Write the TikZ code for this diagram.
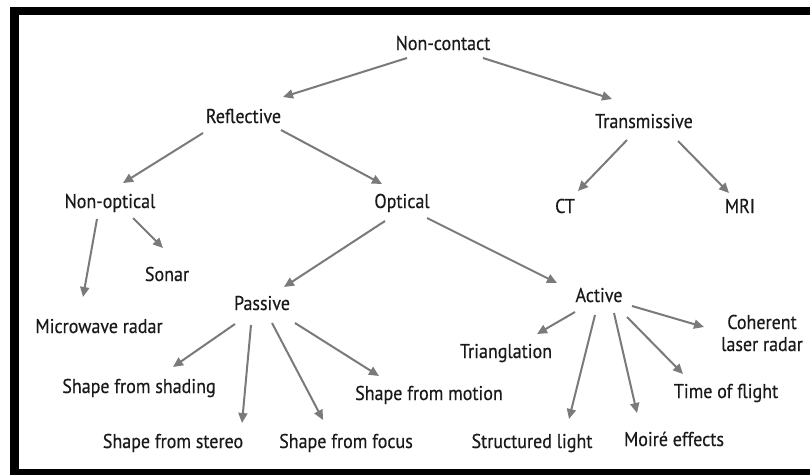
\documentclass[tikz,border=0pt]{standalone}
\usepackage{fontspec}
\setmainfont[FakeStretch=0.9,FakeBold=0.4]{PT Sans}
\usetikzlibrary{arrows.meta}
\definecolor{arrgray}{HTML}{7A7A7A}
\definecolor{txt}{HTML}{1A1A1A}
\begin{document}
\begin{tikzpicture}[x=1pt,y=-1pt,
  lbl/.style={inner sep=0pt,anchor=base,text=txt,font=\fontsize{20}{22}\selectfont},
  arr/.style={draw=arrgray,line width=2pt,-{Triangle[length=10pt,width=9pt]},arrgray}]
\fill[white] (0,0) rectangle (810,474);
\useasboundingbox (0,0) rectangle (810,474);
\draw[line width=8.5pt,line join=miter] (830,11) -- (14.5,11) -- (14.5,473.5) -- (830,473.5);
% nodes
\node[lbl] (nc) at (443,50) {Non-contact};
\node[lbl] (refl) at (243.5,123) {Reflective};
\node[lbl] (trans) at (644,128) {Transmissive};
\node[lbl] (nonopt) at (110,208) {Non-optical};
\node[lbl] (opt) at (402,208) {Optical};
\node[lbl] (ct) at (565,213) {CT};
\node[lbl] (mri) at (740,213) {MRI};
\node[lbl] (sonar) at (167,281) {Sonar};
\node[lbl] (micro) at (99,333) {Microwave radar};
\node[lbl] (passive) at (262,310) {Passive};
\node[lbl] (active) at (599,302) {Active};
\node[lbl] (shading) at (139,393) {Shape from shading};
\node[lbl] (stereo) at (173,448) {Shape from stereo};
\node[lbl] (focus) at (346,448) {Shape from focus};
\node[lbl] (motion) at (429,400) {Shape from motion};
\node[lbl] (triang) at (506,358) {Trianglation};
\node[lbl] (struct) at (532,448) {Structured light};
\node[lbl] (moire) at (674,446) {Moiré effects};
\node[lbl] (tof) at (726,398) {Time of flight};
\node[lbl,align=center] (coh) at (762,351) {Coherent\\laser radar};
% connectors
\draw[arr] ([shift={(-36,8)}]nc.base) -- ([shift={(39.5,-26)}]refl.base);
\draw[arr] ([shift={(40,8)}]nc.base) -- ([shift={(-32,-29)}]trans.base);
\draw[arr] ([shift={(-40.5,10)}]refl.base) -- ([shift={(13,-25)}]nonopt.base);
\draw[arr] ([shift={(37.5,7)}]refl.base) -- ([shift={(-20,-24)}]opt.base);
\draw[arr] ([shift={(-17,12)}]trans.base) -- ([shift={(13,-22)}]ct.base);
\draw[arr] ([shift={(34,13)}]trans.base) -- ([shift={(-11,-20)}]mri.base);
\draw[arr] ([shift={(-13,11)}]nonopt.base) -- ([shift={(-16,-36)}]micro.base);
\draw[arr] ([shift={(23,10)}]nonopt.base) -- ([shift={(-4,-33)}]sonar.base);
\draw[arr] ([shift={(-17,13)}]opt.base) -- ([shift={(22,-23)}]passive.base);
\draw[arr] ([shift={(25,10)}]opt.base) -- ([shift={(-42,-19)}]active.base);
\draw[arr] ([shift={(-27,14)}]passive.base) -- ([shift={(34,-26)}]shading.base);
\draw[arr] ([shift={(-11,15)}]passive.base) -- ([shift={(69,-25)}]stereo.base);
\draw[arr] ([shift={(10,13)}]passive.base) -- ([shift={(-23,-28)}]focus.base);
\draw[arr] ([shift={(33,13)}]passive.base) -- ([shift={(-50,-24)}]motion.base);
\draw[arr] ([shift={(-24,10)}]active.base) -- ([shift={(31,-24)}]triang.base);
\draw[arr] ([shift={(-4,13)}]active.base) -- ([shift={(37,-29)}]struct.base);
\draw[arr] ([shift={(15,11)}]active.base) -- ([shift={(-37,-33)}]moire.base);
\draw[arr] ([shift={(28,15)}]active.base) -- ([shift={(-43,-24)}]tof.base);
\draw[arr] ([shift={(33,4)}]active.base) -- ([shift={(-58,-24)}]coh.base);
\end{tikzpicture}
\end{document}
